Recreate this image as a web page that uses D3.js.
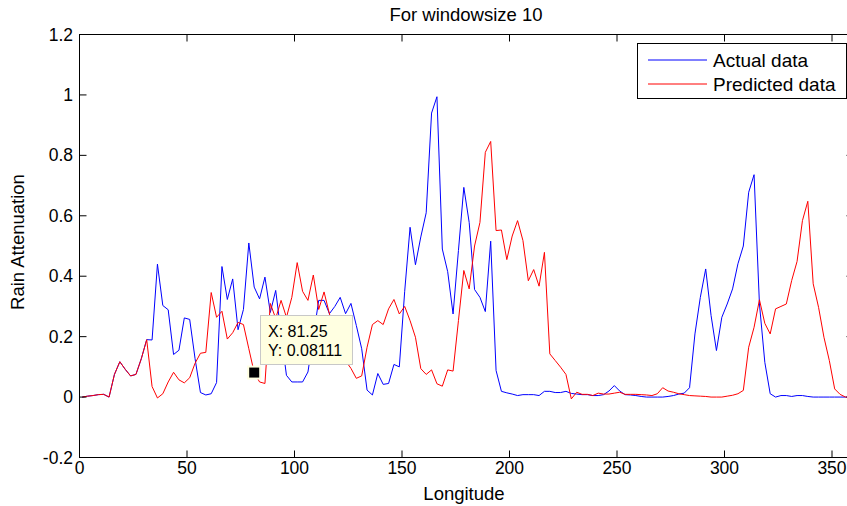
<!DOCTYPE html>
<html>
<head>
<meta charset="utf-8">
<script src="https://cdn.jsdelivr.net/npm/d3@7"></script>
<style>
  body { margin: 0; background: #fff; }
  text { font-family: Arial, "Liberation Sans", Helvetica, sans-serif; fill: #000; }
</style>
</head>
<body>
<svg width="847" height="506"></svg>
<script>
// longitude grid (2.5 deg cells, centre of each cell)
var longitude = d3.range(1.25, 360, 2.5);

var actual = [
  0.0, 0.003, 0.005, 0.008, 0.009, 0.0, 0.075, 0.117, 0.092, 0.07,
  0.075, 0.127, 0.19, 0.189, 0.44, 0.303, 0.289, 0.141, 0.155, 0.262,
  0.257, 0.127, 0.015, 0.007, 0.011, 0.048, 0.432, 0.323, 0.391, 0.223,
  0.29, 0.51, 0.364, 0.325, 0.397, 0.28, 0.353, 0.21, 0.072, 0.05,
  0.05, 0.05, 0.083, 0.2, 0.32, 0.32, 0.276, 0.30, 0.33, 0.276,
  0.31, 0.237, 0.16, 0.023, 0.007, 0.078, 0.042, 0.045, 0.108, 0.1,
  0.35, 0.562, 0.438, 0.53, 0.61, 0.94, 0.994, 0.49, 0.415, 0.275,
  0.485, 0.694, 0.578, 0.356, 0.33, 0.283, 0.516, 0.088, 0.019, 0.014,
  0.01, 0.005, 0.008, 0.008, 0.008, 0.005, 0.019, 0.019, 0.015, 0.015,
  0.019, 0.012, 0.01, 0.008, 0.008, 0.005, 0.005, 0.008, 0.02, 0.038,
  0.02, 0.008, 0.007, 0.005, 0.002, 0.0, 0.0, 0.0, 0.0, 0.002,
  0.005, 0.01, 0.013, 0.031, 0.209, 0.33, 0.424, 0.27, 0.154, 0.264,
  0.308, 0.358, 0.441, 0.50, 0.678, 0.736, 0.308, 0.115, 0.011, 0.0,
  0.005, 0.005, 0.002, 0.005, 0.005, 0.002, 0.0, 0.0, 0.0, 0.0,
  0.0, 0.0, 0.0, 0.0
];

var predicted = [
  0.0, 0.003, 0.005, 0.008, 0.009, 0.0, 0.075, 0.117, 0.092, 0.07,
  0.075, 0.127, 0.19, 0.035, -0.003, 0.011, 0.05, 0.082, 0.057, 0.047,
  0.064, 0.112, 0.145, 0.148, 0.346, 0.264, 0.284, 0.192, 0.213, 0.247,
  0.24, 0.16, 0.08111, 0.05, 0.045, 0.31, 0.26, 0.32, 0.264, 0.33,
  0.445, 0.35, 0.32, 0.404, 0.29, 0.348, 0.275, 0.22, 0.17, 0.12,
  0.095, 0.062, 0.07, 0.165, 0.24, 0.253, 0.24, 0.292, 0.323, 0.275,
  0.3, 0.253, 0.198, 0.094, 0.075, 0.09, 0.044, 0.036, 0.09, 0.086,
  0.253, 0.419, 0.358, 0.5, 0.578, 0.81, 0.846, 0.551, 0.553, 0.455,
  0.533, 0.584, 0.518, 0.385, 0.422, 0.367, 0.479, 0.143, 0.121, 0.099,
  0.075, -0.006, 0.016, 0.009, 0.009, 0.005, 0.013, 0.01, 0.01, 0.013,
  0.016, 0.009, 0.009, 0.009, 0.008, 0.007, 0.005, 0.011, 0.031, 0.02,
  0.016, 0.011, 0.008, 0.005, 0.004, 0.003, 0.002, 0.0, 0.0, 0.0,
  0.003, 0.006, 0.011, 0.022, 0.165, 0.231, 0.322, 0.244, 0.209, 0.292,
  0.30, 0.308, 0.386, 0.449, 0.584, 0.648, 0.375, 0.297, 0.198, 0.121,
  0.027, 0.009, 0.0, 0.0
];

var xTicks = [0, 50, 100, 150, 200, 250, 300, 350];
var yTicks = [-0.2, 0, 0.2, 0.4, 0.6, 0.8, 1, 1.2];
var yTickLabels = ["-0.2", "0", "0.2", "0.4", "0.6", "0.8", "1", "1.2"];

var seriesNames = ["Actual data", "Predicted data"];
var seriesColors = ["#0000ff", "#ff0000"];

// data cursor
var tipX = 81.25, tipY = 0.08111;

var svg = d3.select("svg");

var x = d3.scaleLinear().domain([0, 360]).range([79.5, 853.5]);
var y = d3.scaleLinear().domain([-0.2, 1.2]).range([457.5, 34.5]);

var line = d3.line()
  .x(function (d) { return x(d[0]); })
  .y(function (d) { return y(d[1]); });

// lines, blue first so red is on top
[actual, predicted].forEach(function (vals, k) {
  svg.append("path")
    .datum(d3.zip(longitude, vals))
    .attr("d", line)
    .attr("fill", "none")
    .attr("stroke", seriesColors[k])
    .attr("stroke-width", 1);
});

// axes box
svg.append("rect")
  .attr("x", x(0)).attr("y", y(1.2))
  .attr("width", x(360) - x(0)).attr("height", y(-0.2) - y(1.2))
  .attr("fill", "none").attr("stroke", "#000").attr("stroke-width", 1);

var tickLen = 7;
var ticks = svg.append("g").attr("stroke", "#000").attr("stroke-width", 1);

xTicks.forEach(function (t) {
  ticks.append("line").attr("x1", x(t)).attr("x2", x(t))
    .attr("y1", y(-0.2)).attr("y2", y(-0.2) - tickLen);
  ticks.append("line").attr("x1", x(t)).attr("x2", x(t))
    .attr("y1", y(1.2)).attr("y2", y(1.2) + tickLen);
});
yTicks.forEach(function (t) {
  ticks.append("line").attr("y1", y(t)).attr("y2", y(t))
    .attr("x1", x(0)).attr("x2", x(0) + tickLen);
  ticks.append("line").attr("y1", y(t)).attr("y2", y(t))
    .attr("x1", x(360)).attr("x2", x(360) - tickLen);
});

svg.append("g").selectAll("text")
  .data(xTicks)
  .enter()
  .append("text")
  .attr("x", function (d) { return x(d); })
  .attr("y", 474)
  .attr("text-anchor", "middle")
  .style("font-size", "17.5px")
  .text(function (d) { return d; });

svg.append("g").selectAll("text")
  .data(yTicks)
  .enter()
  .append("text")
  .attr("x", 73)
  .attr("y", function (d) { return y(d); })
  .attr("dy", "0.35em")
  .attr("text-anchor", "end")
  .style("font-size", "17.5px")
  .text(function (d, i) { return yTickLabels[i]; });

// title and axis labels
svg.append("text")
  .attr("x", 466).attr("y", 21)
  .attr("text-anchor", "middle")
  .style("font-size", "18.5px")
  .text("For windowsize 10");

svg.append("text")
  .attr("x", 464).attr("y", 500)
  .attr("text-anchor", "middle")
  .style("font-size", "18.5px")
  .text("Longitude");

svg.append("text")
  .attr("transform", "translate(24,242) rotate(-90)")
  .attr("text-anchor", "middle")
  .style("font-size", "18.5px")
  .text("Rain Attenuation");

// legend
var legend = svg.append("g");
legend.append("rect")
  .attr("x", 637.5).attr("y", 43.5)
  .attr("width", 209).attr("height", 55)
  .attr("fill", "#fff").attr("stroke", "#000").attr("stroke-width", 1);

var rows = legend.selectAll("g.row")
  .data(seriesNames)
  .enter()
  .append("g")
  .attr("class", "row")
  .attr("transform", function (d, i) { return "translate(0," + (60 + i * 24) + ")"; });

rows.append("line")
  .attr("x1", 648).attr("x2", 707)
  .attr("stroke", function (d, i) { return seriesColors[i]; })
  .attr("stroke-width", 1);

rows.append("text")
  .attr("x", 713)
  .attr("dy", "0.35em")
  .style("font-size", "19px")
  .text(function (d) { return d; });

// data tip
svg.append("rect")
  .attr("x", x(tipX) - 6).attr("y", y(tipY) - 6)
  .attr("width", 12).attr("height", 12)
  .attr("fill", "#000").attr("stroke", "#ffffe1").attr("stroke-width", 2);

var tip = svg.append("g");
tip.append("rect")
  .attr("x", 260.5).attr("y", 315.5)
  .attr("width", 92).attr("height", 49)
  .attr("fill", "#ffffe1").attr("stroke", "#c8c8c8").attr("stroke-width", 1);
tip.append("text")
  .attr("x", 268).attr("y", 337)
  .style("font-size", "16px")
  .text("X: " + tipX);
tip.append("text")
  .attr("x", 268).attr("y", 356)
  .style("font-size", "16px")
  .text("Y: " + tipY);
</script>
</body>
</html>
